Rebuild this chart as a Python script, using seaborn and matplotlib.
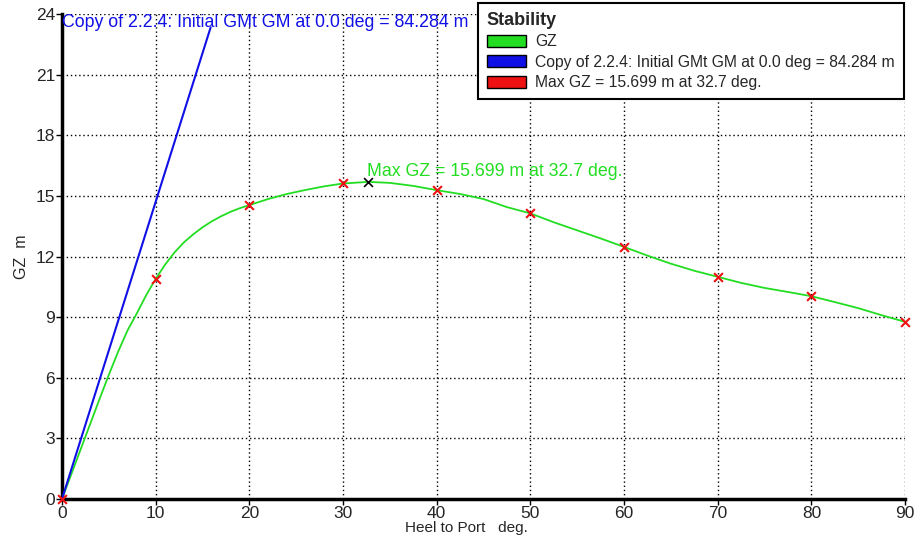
import matplotlib
matplotlib.use("Agg")
import matplotlib.pyplot as plt
import matplotlib.patches as mpatches
import pandas as pd
import seaborn as sns

# GZ curve
heel = [0, 2, 4, 5, 6, 7, 8, 9, 10, 11, 12, 13, 14, 15, 16, 17, 18, 19, 20, 22,
        24, 26, 28, 30, 32.7, 35, 37.5, 40, 42.5, 45, 47.5, 50, 52.5, 55, 57.5,
        60, 62.5, 65, 67.5, 70, 72.5, 75, 77.5, 80, 82.5, 85, 87.5, 90]
gz = [0, 2.47, 4.94, 6.15, 7.3, 8.35, 9.2, 10.1, 10.9, 11.6, 12.2, 12.7, 13.1,
      13.45, 13.75, 14.0, 14.22, 14.4, 14.55, 14.85, 15.1, 15.3, 15.48, 15.62,
      15.70, 15.65, 15.5, 15.29, 15.1, 14.85, 14.45, 14.14, 13.7, 13.3, 12.9,
      12.48, 12.05, 11.65, 11.3, 11.0, 10.7, 10.45, 10.25, 10.04, 9.75, 9.45,
      9.1, 8.77]

# tabulated points (red crosses)
mark_heel = [0, 10, 20, 30, 40, 50, 60, 70, 80, 90]
mark_gz = [0, 10.9, 14.55, 15.62, 15.29, 14.14, 12.48, 11.0, 10.04, 8.77]

# initial GM line
gm_heel = [0, 15.87]
gm_gz = [0, 23.35]

max_heel = 32.7
max_gz = 15.699

x_ticks = [0, 10, 20, 30, 40, 50, 60, 70, 80, 90]
y_ticks = [0, 3, 6, 9, 12, 15, 18, 21, 24]

green = "#22dd22"
blue = "#1010e6"
red = "#ee1111"

sns.set_style("white")
plt.rcParams["font.family"] = ["Liberation Sans", "DejaVu Sans"]

fig = plt.figure(figsize=(9.17, 5.46), dpi=100)
ax = fig.add_axes([0.0676, 0.086, 0.9194, 0.888])

curve = pd.DataFrame({"heel": heel, "gz": gz})
marks = pd.DataFrame({"heel": mark_heel, "gz": mark_gz})
gm = pd.DataFrame({"heel": gm_heel, "gz": gm_gz})

sns.lineplot(data=curve, x="heel", y="gz", ax=ax, color=green, linewidth=1.3,
             sort=False, zorder=3)
sns.lineplot(data=gm, x="heel", y="gz", ax=ax, color=blue, linewidth=1.5,
             sort=False, zorder=3)
sns.scatterplot(data=marks, x="heel", y="gz", ax=ax, marker="x", color=red,
                s=40, linewidth=1.5, zorder=4, clip_on=False)
ax.scatter([max_heel], [max_gz], marker="x", color="black", s=40,
           linewidth=1.2, zorder=4)

ax.text(0, 24.0, "Copy of 2.2.4: Initial GMt GM at 0.0 deg = 84.284 m",
        color=blue, fontsize=12.8, ha="left", va="top")
ax.text(max_heel - 0.1, max_gz + 0.1, "Max GZ = 15.699 m at 32.7 deg.",
        color=green, fontsize=12.8, ha="left", va="bottom")

ax.set_xlim(0, 90)
ax.set_ylim(0, 24)
ax.set_xticks(x_ticks)
ax.set_yticks(y_ticks)
ax.tick_params(axis="both", labelsize=12.5, length=4, width=1, direction="out",
               color="black", pad=1, left=True, bottom=True)
ax.grid(True, color="black", linestyle=(0, (1, 2)), linewidth=1)
for side in ["top", "right"]:
    ax.spines[side].set_visible(False)
for side in ["left", "bottom"]:
    ax.spines[side].set_color("black")
    ax.spines[side].set_linewidth(2.5)

ax.set_xlabel("Heel to Port   deg.", fontsize=11, labelpad=0)
ax.set_ylabel("GZ  m", fontsize=11.5, labelpad=5)
ax.xaxis.set_label_coords(0.48, -0.045)

handles = [
    mpatches.Patch(facecolor=green, edgecolor="black", label="GZ"),
    mpatches.Patch(facecolor=blue, edgecolor="black",
                   label="Copy of 2.2.4: Initial GMt GM at 0.0 deg = 84.284 m"),
    mpatches.Patch(facecolor=red, edgecolor="black",
                   label="Max GZ = 15.699 m at 32.7 deg."),
]
leg = fig.legend(handles=handles, title="Stability", loc="upper left",
                 bbox_to_anchor=(478 / 917, 1 - 3 / 546), fontsize=11.3,
                 title_fontproperties={"weight": "bold", "size": 13},
                 frameon=True, fancybox=False, edgecolor="black",
                 framealpha=1, alignment="left", handlelength=2.5,
                 handleheight=0.8, labelspacing=0.35, borderpad=0.55,
                 handletextpad=0.6, borderaxespad=0)
leg.get_frame().set_linewidth(1.5)

fig.savefig("out.png", dpi=100)
